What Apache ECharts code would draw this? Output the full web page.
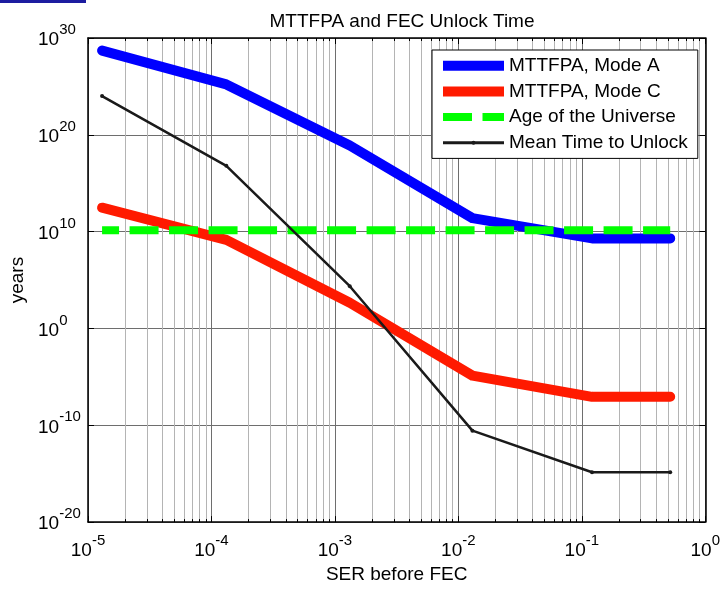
<!DOCTYPE html>
<html>
<head>
<meta charset="utf-8">
<script src="https://cdn.jsdelivr.net/npm/echarts@6/dist/echarts.min.js"></script>
<style>
html,body{margin:0;padding:0;background:#fff;}
#c{width:723px;height:589px;}
</style>
</head>
<body>
<div id="c"></div>
<script>
// ---- data ----
var serValues = [1.3e-5, 1.32e-4, 1.32e-3, 1.3e-2, 1.21e-1, 5.2e-1];
var modeA = [5e28, 1.6e25, 8e18, 2.5e11, 2e9, 2e9];
var modeC = [3e12, 1.4e9, 4.5e2, 1.35e-5, 8.7e-8, 8.7e-8];
var ageUniverse = [1.38e10, 1.38e10];
var ageX = [1.3e-5, 5.2e-1];
var meanUnlock = [1e24, 6.3e16, 2.3e4, 2.8e-11, 1.4e-15, 1.4e-15];
var xTickExponents = [-5, -4, -3, -2, -1, 0];
var yTickExponents = [-20, -10, 0, 10, 20, 30];
var seriesNames = ['MTTFPA, Mode A', 'MTTFPA, Mode C', 'Age of the Universe', 'Mean Time to Unlock'];

var FONT = '"Liberation Sans", Arial, sans-serif';

function pairs(xs, ys) { return xs.map(function (x, i) { return [x, ys[i]]; }); }
function expLabel(list) {
  return function (v) {
    var e = Math.round(Math.log10(v));
    var idx = list.indexOf(e);
    if (idx < 0) return '';
    return '{b|10}{s|' + String(list[idx]) + '}';
  };
}
var richLbl = {
  b: { fontSize: 19, fontFamily: FONT, color: '#000', lineHeight: 19, verticalAlign: 'bottom' },
  s: { fontSize: 15, fontFamily: FONT, color: '#000', lineHeight: 15, padding: [0, 0, 12, 0], verticalAlign: 'bottom' }
};

var chart = echarts.init(document.getElementById('c'), null, { renderer: 'canvas' });
var axisLineStyle = { color: '#000', width: 1.5 };
var option = {
  backgroundColor: '#fff',
  animation: false,
  title: {
    text: 'MTTFPA and FEC Unlock Time',
    left: 397, top: 7, textAlign: 'center',
    textStyle: { fontFamily: FONT, fontSize: 19, fontWeight: 'normal', color: '#000' }
  },
  graphic: [{ type: 'rect', shape: { x: 0, y: 0, width: 86, height: 3 }, style: { fill: '#1c1ca0' } }],
  grid: { left: 88, right: 17, top: 38, bottom: 63, containLabel: false },
  legend: {
    orient: 'vertical', left: 432, top: 50,
    padding: [5.7, 10, 5.6, 6],
    itemWidth: 61, itemHeight: 5, itemGap: 5.7,
    backgroundColor: '#fff', borderColor: '#000', borderWidth: 1, borderRadius: 0,
    textStyle: { fontFamily: FONT, fontSize: 19, color: '#000', lineHeight: 20 },
    data: [
      { name: seriesNames[0], lineStyle: { width: 10, cap: 'butt' }, itemStyle: { opacity: 0 } },
      { name: seriesNames[1], lineStyle: { width: 10, cap: 'butt' }, itemStyle: { opacity: 0 } },
      { name: seriesNames[2], lineStyle: { width: 8, type: [29, 10.5], dashOffset: 0 }, itemStyle: { opacity: 0 } },
      { name: seriesNames[3], lineStyle: { width: 3 } }
    ]
  },
  xAxis: [{
    type: 'log', logBase: 10, min: 1e-5, max: 1, interval: 1,
    position: 'bottom',
    name: 'SER before FEC', nameLocation: 'middle', nameGap: 42,
    nameTextStyle: { fontFamily: FONT, fontSize: 19, color: '#000' },
    axisLine: { show: true, lineStyle: axisLineStyle },
    axisTick: { show: true, inside: true, length: 6, lineStyle: { color: '#000' } },
    minorTick: { show: true, splitNumber: 9, length: 3, lineStyle: { color: '#000' } },
    axisLabel: { formatter: expLabel(xTickExponents), rich: richLbl, margin: 15, padding: [4, 0, 0, 0], showMinLabel: true, showMaxLabel: true },
    splitLine: { show: true, lineStyle: { color: '#6e6e6e', width: 1 } },
    minorSplitLine: { show: true, lineStyle: { color: '#b4b4b4', width: 1 } }
  }, {
    type: 'log', logBase: 10, min: 1e-5, max: 1, interval: 1,
    position: 'top',
    axisLine: { show: true, lineStyle: axisLineStyle },
    axisTick: { show: true, inside: true, length: 6, lineStyle: { color: '#000' } },
    minorTick: { show: true, splitNumber: 9, length: 3, lineStyle: { color: '#000' } },
    axisLabel: { show: false },
    splitLine: { show: false }
  }],
  yAxis: [{
    type: 'log', logBase: 10, min: 1e-20, max: 1e30, interval: 10,
    position: 'left',
    name: 'years', nameLocation: 'middle', nameGap: 55, nameRotate: 90,
    nameTextStyle: { fontFamily: FONT, fontSize: 19, color: '#000' },
    axisLine: { show: true, lineStyle: axisLineStyle },
    axisTick: { show: true, inside: true, length: 6, lineStyle: { color: '#000' } },
    axisLabel: { formatter: expLabel(yTickExponents), rich: richLbl, margin: 50, align: 'left', padding: [4, 0, 0, 0], showMinLabel: true, showMaxLabel: true },
    splitLine: { show: true, lineStyle: { color: '#6e6e6e', width: 1 } }
  }, {
    type: 'log', logBase: 10, min: 1e-20, max: 1e30, interval: 10,
    position: 'right',
    axisLine: { show: true, lineStyle: axisLineStyle },
    axisTick: { show: true, inside: true, length: 6, lineStyle: { color: '#000' } },
    axisLabel: { show: false },
    splitLine: { show: false }
  }],
  series: [{
    name: seriesNames[0], type: 'line', data: pairs(serValues, modeA),
    symbol: 'none', color: '#0000ff',
    lineStyle: { color: '#0000ff', width: 10, cap: 'round', join: 'round' }
  }, {
    name: seriesNames[1], type: 'line', data: pairs(serValues, modeC),
    symbol: 'none', color: '#ff1a00',
    lineStyle: { color: '#ff1a00', width: 10, cap: 'round', join: 'round' }
  }, {
    name: seriesNames[2], type: 'line', data: pairs(ageX, ageUniverse),
    symbol: 'none', color: '#00ff00',
    lineStyle: { color: '#00ff00', width: 8, type: [29, 10.5], dashOffset: 12 }
  }, {
    name: seriesNames[3], type: 'line', data: pairs(serValues, meanUnlock),
    symbol: 'circle', symbolSize: 4, color: '#1a1a1a',
    itemStyle: { color: '#1a1a1a' },
    lineStyle: { color: '#1a1a1a', width: 2.5 }
  }]
};
chart.setOption(option);
</script>
</body>
</html>
